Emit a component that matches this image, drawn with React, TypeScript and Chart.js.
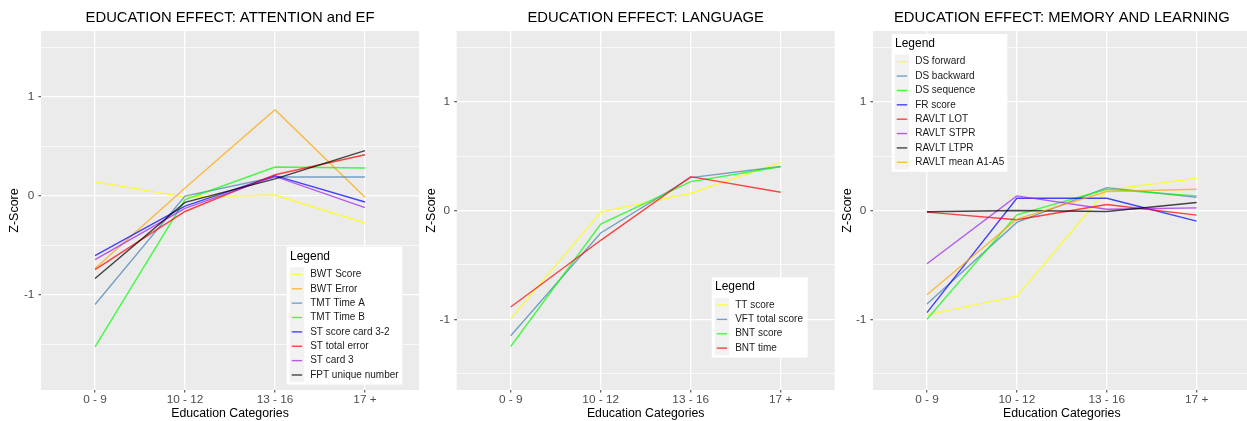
import React, { useEffect, useRef } from "react";
import { Chart, registerables } from "chart.js";

Chart.register(...registerables);

const FONT = "'Liberation Sans', Arial, Helvetica, sans-serif";

// ---------- shared ----------
const categories = ["0 - 9", "10 - 12", "13 - 16", "17 +"];
const yTickValues = [-1.5, -1, -0.5, 0, 0.5, 1, 1.5];

// ---------- panel 1: attention and EF ----------
const attentionTitle = "EDUCATION EFFECT: ATTENTION and EF";
const attentionLabels = [
  "BWT Score",
  "BWT Error",
  "TMT Time A",
  "TMT Time B",
  "ST score card 3-2",
  "ST total error",
  "ST card 3",
  "FPT unique number",
];
const bwtScore = [0.141, -0.015, 0.007, -0.276];
const bwtError = [-0.737, 0.078, 0.869, -0.017];
const tmtTimeA = [-1.1, -0.005, 0.189, 0.189];
const tmtTimeB = [-1.529, -0.04, 0.29, 0.28];
const stScoreCard32 = [-0.606, -0.105, 0.202, -0.064];
const stTotalError = [-0.747, -0.16, 0.212, 0.414];
const stCard3 = [-0.646, -0.128, 0.195, -0.121];
const fptUniqueNumber = [-0.838, -0.068, 0.169, 0.455];
const attentionColors = [
  "rgba(255,255,0,0.72)",
  "rgba(255,165,0,0.72)",
  "rgba(70,130,180,0.72)",
  "rgba(0,255,0,0.72)",
  "rgba(0,0,255,0.72)",
  "rgba(255,0,0,0.72)",
  "rgba(160,32,240,0.72)",
  "rgba(0,0,0,0.72)",
];

// ---------- panel 2: language ----------
const languageTitle = "EDUCATION EFFECT: LANGUAGE";
const languageLabels = ["TT score", "VFT total score", "BNT score", "BNT time"];
const ttScore = [-0.994, -0.015, 0.159, 0.442];
const vftTotalScore = [-1.152, -0.207, 0.302, 0.405];
const bntScore = [-1.25, -0.125, 0.265, 0.402];
const bntTime = [-0.887, -0.274, 0.311, 0.168];
const languageColors = [
  "rgba(255,255,0,0.72)",
  "rgba(70,130,180,0.72)",
  "rgba(0,255,0,0.72)",
  "rgba(255,0,0,0.72)",
];

// ---------- panel 3: memory and learning ----------
const memoryTitle = "EDUCATION EFFECT: MEMORY AND LEARNING";
const memoryLabels = [
  "DS forward",
  "DS backward",
  "DS sequence",
  "FR score",
  "RAVLT LOT",
  "RAVLT STPR",
  "RAVLT LTPR",
  "RAVLT mean A1-A5",
];
const dsForward = [-0.96, -0.787, 0.189, 0.296];
const dsBackward = [-0.86, -0.11, 0.21, 0.122];
const dsSequence = [-1.0, -0.04, 0.195, 0.134];
const frScore = [-0.939, 0.113, 0.113, -0.098];
const ravltLot = [-0.015, -0.085, 0.055, -0.043];
const ravltStpr = [-0.49, 0.134, 0.012, 0.024];
const ravltLtpr = [-0.012, 0.0, -0.009, 0.073];
const ravltMeanA1A5 = [-0.774, -0.079, 0.174, 0.195];
const memoryColors = [
  "rgba(255,255,0,0.72)",
  "rgba(70,130,180,0.72)",
  "rgba(0,255,0,0.72)",
  "rgba(0,0,255,0.72)",
  "rgba(255,0,0,0.72)",
  "rgba(160,32,240,0.72)",
  "rgba(0,0,0,0.72)",
  "rgba(255,165,0,0.72)",
];

type LegendPos = { x: number; y: number; w: number };

type PanelProps = {
  left: number;
  width: number;
  plotLeft: number;
  plotRight: number;
  title: string;
  labels: string[];
  series: number[][];
  colors: string[];
  yMin: number;
  yMax: number;
  legend: LegendPos;
};

const panelBgPlugin = {
  id: "ggPanelBg",
  beforeDraw(chart: any) {
    const { ctx, chartArea: a } = chart;
    ctx.save();
    ctx.fillStyle = "#ebebeb";
    ctx.fillRect(a.left, a.top, a.right - a.left, a.bottom - a.top);
    ctx.restore();
  },
};

function makeLegendPlugin(pos: LegendPos) {
  return {
    id: "ggLegend",
    afterDraw(chart: any) {
      const { ctx } = chart;
      const ds = chart.data.datasets;
      const pitch = 14.37;
      const firstRow = pos.y + 27.7;
      const h = 27.7 + (ds.length - 1) * pitch + 9.5;
      ctx.save();
      ctx.fillStyle = "#ffffff";
      ctx.fillRect(pos.x, pos.y, pos.w, h);
      ctx.fillStyle = "#000000";
      ctx.textBaseline = "middle";
      ctx.textAlign = "left";
      ctx.font = `12px ${FONT}`;
      ctx.fillText("Legend", pos.x + 3.3, pos.y + 9.5);
      const keyX = pos.x + 3;
      const keyW = 14.5;
      ctx.fillStyle = "#f2f2f2";
      ctx.fillRect(keyX, firstRow - pitch / 2, keyW, pitch * ds.length);
      ds.forEach((d: any, i: number) => {
        const cy = firstRow + i * pitch;
        ctx.strokeStyle = d.borderColor;
        ctx.lineWidth = 1.4;
        ctx.beginPath();
        ctx.moveTo(keyX + 2, cy);
        ctx.lineTo(keyX + keyW - 2, cy);
        ctx.stroke();
        ctx.fillStyle = "#1a1a1a";
        ctx.font = `10px ${FONT}`;
        ctx.fillText(d.label, pos.x + 23.5, cy);
      });
      ctx.restore();
    },
  };
}

function Panel(p: PanelProps) {
  const ref = useRef<HTMLCanvasElement>(null);
  useEffect(() => {
    const yAxisW = p.plotLeft - p.left;
    const padRight = p.left + p.width - p.plotRight;
    const legendPos = { x: p.legend.x - p.left, y: p.legend.y, w: p.legend.w };
    const n = p.series.length;
    const chart = new Chart(ref.current as HTMLCanvasElement, {
      type: "line",
      data: {
        datasets: p.series.map((vals, i) => ({
          label: p.labels[i],
          data: vals.map((v, j) => ({ x: j, y: v })),
          borderColor: p.colors[i],
          backgroundColor: p.colors[i],
          borderWidth: 1.4,
          pointRadius: 0,
          pointHoverRadius: 0,
          tension: 0,
          fill: false,
          order: n - i,
        })),
      },
      options: {
        responsive: false,
        animation: false,
        events: [],
        layout: { padding: { left: 0, right: padRight, top: 0, bottom: 0 } },
        plugins: {
          legend: { display: false },
          tooltip: { enabled: false },
          title: {
            display: true,
            text: p.title,
            color: "#000000",
            fullSize: false,
            font: { family: FONT, size: 14.8, weight: "normal", lineHeight: 1.2 },
            padding: { top: 9.42, bottom: 3.82 },
          },
        },
        scales: {
          x: {
            type: "linear",
            min: -0.6,
            max: 3.6,
            bounds: "data",
            afterBuildTicks: (s: any) => {
              s.ticks = categories.map((_, i) => ({ value: i }));
            },
            afterFit: (s: any) => {
              s.height = 31;
            },
            ticks: {
              autoSkip: false,
              maxRotation: 0,
              padding: 1.4,
              color: "#4d4d4d",
              font: { family: FONT, size: 11.8, lineHeight: 1 },
              callback: (v: any) => categories[v] ?? "",
            },
            grid: {
              color: "#ffffff",
              lineWidth: 1.3,
              tickLength: 2.6,
              tickColor: "#666666",
              drawTicks: true,
            },
            border: { display: false },
            title: {
              display: true,
              text: "Education Categories",
              color: "#000000",
              font: { family: FONT, size: 12.3, lineHeight: 1.2 },
              padding: { top: 0, bottom: 0.3 },
            },
          },
          y: {
            type: "linear",
            min: p.yMin,
            max: p.yMax,
            bounds: "data",
            afterBuildTicks: (s: any) => {
              s.ticks = yTickValues.map((v) => ({ value: v }));
            },
            afterFit: (s: any) => {
              s.width = yAxisW;
            },
            ticks: {
              autoSkip: false,
              padding: 4,
              color: "#4d4d4d",
              font: { family: FONT, size: 11.8, lineHeight: 1.2 },
              callback: (v: any) => (Number.isInteger(v) ? String(v) : ""),
            },
            grid: {
              color: "#ffffff",
              lineWidth: (ctx: any) => (Number.isInteger(ctx.tick?.value) ? 1.3 : 0.7),
              tickLength: 2.6,
              tickColor: (ctx: any) =>
                Number.isInteger(ctx.tick?.value) ? "#666666" : "rgba(0,0,0,0)",
              drawTicks: true,
            },
            border: { display: false },
            title: {
              display: true,
              text: "Z-Score",
              color: "#000000",
              font: { family: FONT, size: 12.5, lineHeight: 1.2 },
              padding: { top: 7.5, bottom: 0 },
            },
          },
        },
      } as any,
      plugins: [panelBgPlugin, makeLegendPlugin(legendPos)],
    });
    return () => chart.destroy();
  }, []);
  return (
    <canvas
      ref={ref}
      width={p.width}
      height={421}
      style={{ position: "absolute", left: p.left, top: 0, width: p.width, height: 421 }}
    />
  );
}

export default function App() {
  return (
    <div
      style={{
        position: "fixed",
        left: 0,
        top: 0,
        width: 1247,
        height: 421,
        overflow: "hidden",
        background: "#ffffff",
      }}
    >
      <Panel
        left={0}
        width={420}
        plotLeft={41}
        plotRight={419}
        title={attentionTitle}
        labels={attentionLabels}
        series={[bwtScore, bwtError, tmtTimeA, tmtTimeB, stScoreCard32, stTotalError, stCard3, fptUniqueNumber]}
        colors={attentionColors}
        yMin={-1.965}
        yMax={1.665}
        legend={{ x: 286.7, y: 246.7, w: 115.6 }}
      />
      <Panel
        left={417}
        width={420}
        plotLeft={456.7}
        plotRight={834.7}
        title={languageTitle}
        labels={languageLabels}
        series={[ttScore, vftTotalScore, bntScore, bntTime]}
        colors={languageColors}
        yMin={-1.65}
        yMax={1.65}
        legend={{ x: 711.7, y: 277.3, w: 96 }}
      />
      <Panel
        left={833}
        width={424}
        plotLeft={873}
        plotRight={1250.6}
        title={memoryTitle}
        labels={memoryLabels}
        series={[dsForward, dsBackward, dsSequence, frScore, ravltLot, ravltStpr, ravltLtpr, ravltMeanA1A5]}
        colors={memoryColors}
        yMin={-1.65}
        yMax={1.65}
        legend={{ x: 891.7, y: 34, w: 115.6 }}
      />
    </div>
  );
}
